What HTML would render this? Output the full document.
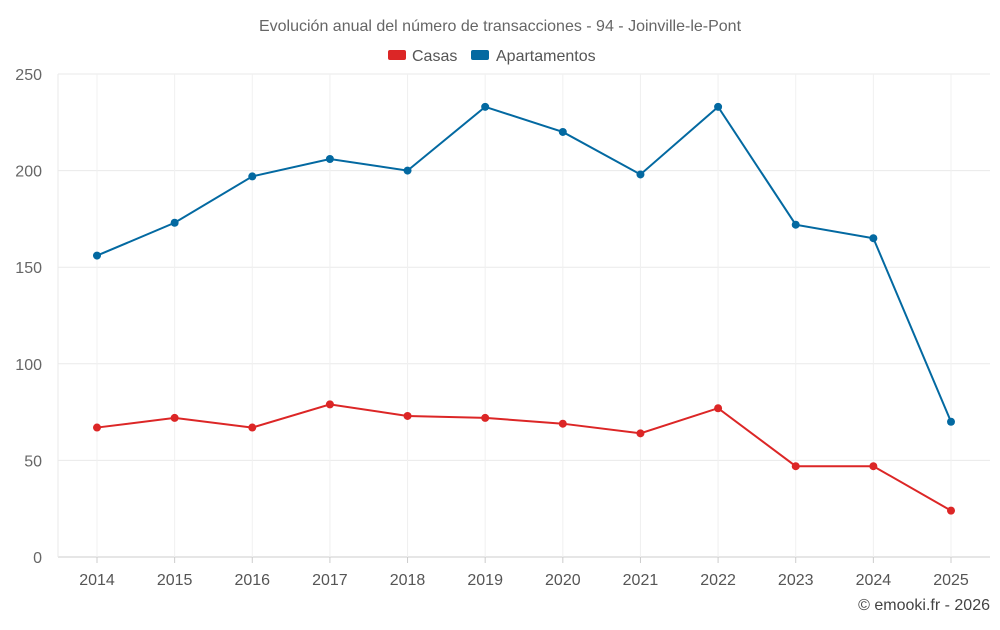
<!DOCTYPE html>
<html><head><meta charset="utf-8"><style>
body{margin:0;background:#fff;font-family:"Liberation Sans",sans-serif}
</style></head><body>
<svg id="chart" width="1000" height="625" xmlns="http://www.w3.org/2000/svg"></svg>
<script>
const years=["2014","2015","2016","2017","2018","2019","2020","2021","2022","2023","2024","2025"];
const casas=[67,72,67,79,73,72,69,64,77,47,47,24];
const apartamentos=[156,173,197,206,200,233,220,198,233,172,165,70];
const yTicks=[0,50,100,150,200,250];
const NS="http://www.w3.org/2000/svg";
const svg=document.getElementById('chart');
const L=58,R=990,T=74,B=557,YMAX=250;
const x=i=>97+i*(951-97)/(years.length-1);
const y=v=>B-(v/YMAX)*(B-T);
function mk(tag,attrs,parent){const e=document.createElementNS(NS,tag);for(const k in attrs)e.setAttribute(k,attrs[k]);(parent||svg).appendChild(e);return e;}
const t=mk('text',{x:500,y:31,'text-anchor':'middle','font-size':16,fill:'#666'});


t.textContent='Evolución anual del número de transacciones - 94 - Joinville-le-Pont';
// legend
const lg=[["Casas","#dc2626",388,412],["Apartamentos","#0369a1",471,496]];
lg.forEach(([n,c,rx,tx])=>{
  const g=mk('g',{});
  
  
  mk('rect',{x:rx,y:50,width:18,height:10,rx:2,fill:c},g);
  const tt=mk('text',{x:tx,y:61,'font-size':16,fill:'#555'},g);tt.textContent=n;
});
// grid
yTicks.forEach(v=>{
  const l=mk('line',{x1:L,x2:R,y1:y(v),y2:y(v),stroke:v===0?'#ccc':'#eaeaea'});
  
  
  const tx=mk('text',{x:42,y:y(v)+6,'text-anchor':'end','font-size':16,fill:'#666'});
  
  
  tx.textContent=v;
});
years.forEach((yr,i)=>{
  const l=mk('line',{x1:x(i),x2:x(i),y1:T,y2:B,stroke:'#f0f0f0'});
  
  
  mk('line',{x1:x(i),x2:x(i),y1:B,y2:B+6,stroke:'#ccc'});
  const tx=mk('text',{x:x(i),y:585,'text-anchor':'middle','font-size':16,fill:'#555'});
  
  
  tx.textContent=yr;
});
mk('line',{x1:L,x2:L,y1:T,y2:B,stroke:'#eaeaea'});
function series(data,color,name){
  const p=mk('polyline',{points:data.map((v,i)=>x(i)+','+y(v)).join(' '),fill:'none',stroke:color,'stroke-width':2});
  
  
  data.forEach((v,i)=>{
    const c=mk('circle',{cx:x(i),cy:y(v),r:4,fill:color});
    
    
  });
}
series(apartamentos,'#0369a1','apartamentos');
series(casas,'#dc2626','casas');
const cr=mk('text',{x:990,y:610,'text-anchor':'end','font-size':16,fill:'#444'});


cr.textContent='© emooki.fr - 2026';
</script>
</body></html>
